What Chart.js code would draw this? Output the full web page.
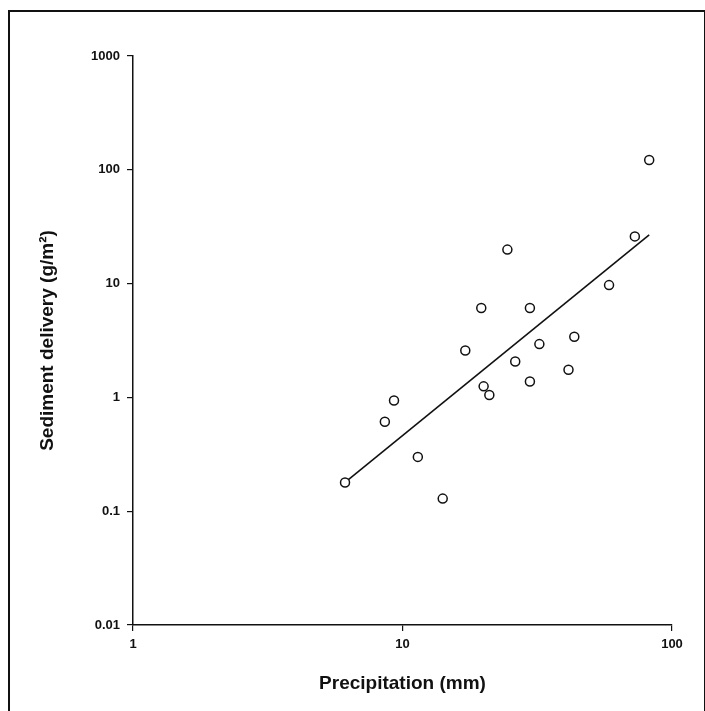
<!DOCTYPE html>
<html lang="en">
<head>
    <meta charset="UTF-8">
    <title>Sediment delivery vs precipitation</title>
    <style>
        body {
            margin: 0;
            background-color: #fff;
            font-family: Arial, "Liberation Sans", sans-serif;
        }
        .wrap {
            position: relative;
            width: 705px;
            height: 711px;
            overflow: hidden;
        }
        .frame {
            position: absolute;
            left: 8px;
            top: 10px;
            width: 694px;
            height: 710px;
            border: 2px solid #111;
            pointer-events: none;
        }
        canvas {
            position: absolute;
            left: 0;
            top: 0;
        }
    </style>
</head>
<body>
    <div class="wrap">
        <canvas id="sedChart" width="705" height="711"></canvas>
        <div class="frame"></div>
    </div>

    <script src="https://cdn.jsdelivr.net/npm/chart.js"></script>
    <script>
        const precip = [6.12, 8.6, 9.3, 11.4, 14.1, 17.1, 19.6, 20.0, 21.0, 24.5,
                        26.2, 29.7, 29.7, 32.2, 41.3, 43.4, 58.4, 72.8, 82.3];
        const sediment = [0.179, 0.61, 0.94, 0.30, 0.129, 2.58, 6.1, 1.25, 1.05, 19.9,
                          2.07, 6.1, 1.38, 2.94, 1.75, 3.41, 9.7, 26, 122];

        // fitted power-law line, two ends
        const fitX = [6.12, 82.3];
        const fitY = [0.179, 26.8];

        // axis ticks
        const xTicks = [1, 10, 100];
        const yTicks = [0.01, 0.1, 1, 10, 100, 1000];

        const ctx = document.getElementById('sedChart').getContext('2d');

        const tickFont = { family: 'Arial, "Liberation Sans", sans-serif', size: 13, weight: 'bold' };
        const titleFont = { family: 'Arial, "Liberation Sans", sans-serif', size: 19, weight: 'bold' };

        function fmt(v) {
            return Number(v.toPrecision(1)).toString();
        }

        new Chart(ctx, {
            type: 'scatter',
            data: {
                datasets: [
                    {
                        label: 'Events',
                        data: precip.map((x, i) => ({ x: x, y: sediment[i] })),
                        pointRadius: 4.5,
                        pointBorderWidth: 1.5,
                        pointBorderColor: '#111',
                        pointBackgroundColor: '#fff',
                        order: 1
                    },
                    {
                        type: 'line',
                        label: 'Fit',
                        data: fitX.map((x, i) => ({ x: x, y: fitY[i] })),
                        borderColor: '#111',
                        borderWidth: 1.6,
                        pointRadius: 0,
                        fill: false,
                        order: 2
                    }
                ]
            },
            options: {
                responsive: false,
                animation: false,
                layout: {
                    padding: { top: 56, right: 33, left: 0, bottom: 0 }
                },
                plugins: {
                    legend: { display: false },
                    tooltip: { enabled: false }
                },
                scales: {
                    x: {
                        type: 'logarithmic',
                        min: 1,
                        max: 100,
                        afterBuildTicks: (scale) => {
                            scale.ticks = xTicks.map(v => ({ value: v }));
                        },
                        afterFit: (scale) => { scale.height = 86; },
                        ticks: {
                            color: '#111',
                            font: tickFont,
                            padding: 6,
                            maxRotation: 0,
                            callback: (v) => fmt(v)
                        },
                        grid: {
                            drawOnChartArea: false,
                            drawTicks: true,
                            tickLength: 6,
                            color: '#111',
                            lineWidth: 1.2
                        },
                        border: { color: '#111', width: 1.5 },
                        title: {
                            display: true,
                            text: 'Precipitation (mm)',
                            color: '#111',
                            font: titleFont,
                            padding: { top: 0, bottom: 16 }
                        }
                    },
                    y: {
                        type: 'logarithmic',
                        min: 0.01,
                        max: 1000,
                        afterBuildTicks: (scale) => {
                            scale.ticks = yTicks.map(v => ({ value: v }));
                        },
                        afterFit: (scale) => { scale.width = 133; },
                        ticks: {
                            color: '#111',
                            font: tickFont,
                            padding: 7,
                            callback: (v) => fmt(v)
                        },
                        grid: {
                            drawOnChartArea: false,
                            drawTicks: true,
                            tickLength: 6,
                            color: '#111',
                            lineWidth: 1.2
                        },
                        border: { color: '#111', width: 1.5 },
                        title: {
                            display: true,
                            text: 'Sediment delivery (g/m²)',
                            color: '#111',
                            font: titleFont,
                            padding: { top: 36, bottom: 0 }
                        }
                    }
                }
            }
        });
    </script>
</body>
</html>
